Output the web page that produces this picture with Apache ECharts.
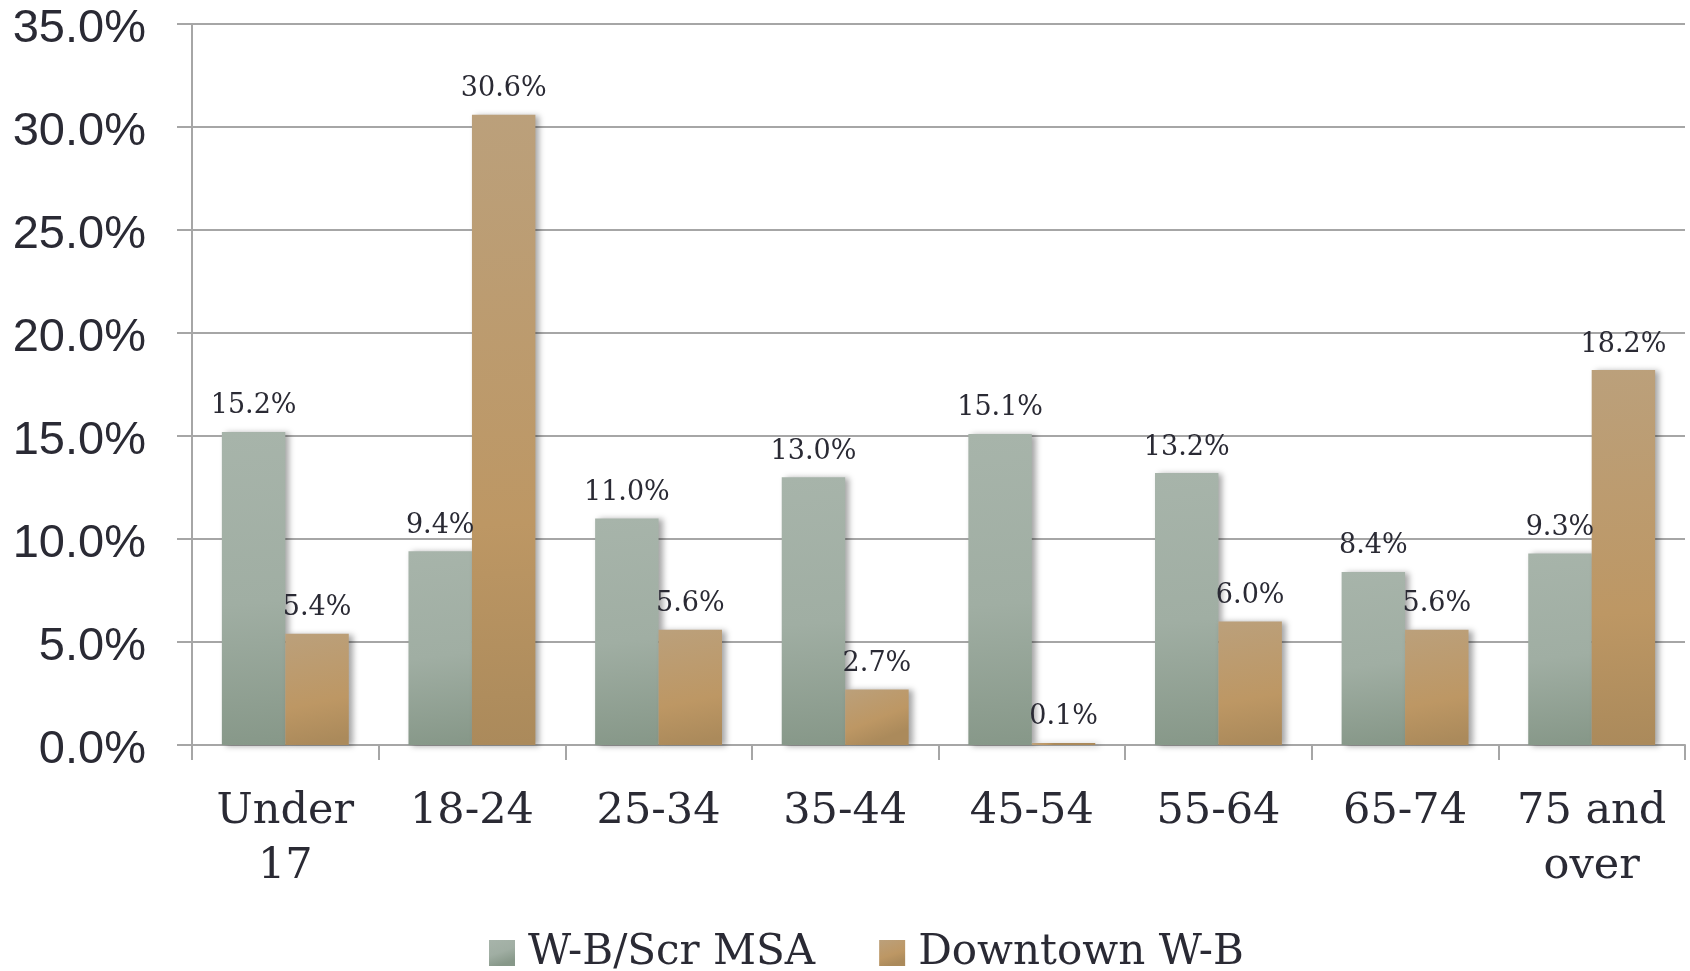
<!DOCTYPE html>
<html>
<head>
<meta charset="utf-8">
<title>Age distribution</title>
<script src="https://cdn.jsdelivr.net/npm/echarts@6/dist/echarts.min.js"></script>
<style>
  html, body { margin: 0; padding: 0; background: #ffffff; }
  #chart { width: 1690px; height: 971px; }
</style>
</head>
<body>
<div id="chart"></div>
<script>
// Age groups and population shares (%)
const categories = ['Under\n17', '18-24', '25-34', '35-44', '45-54', '55-64', '65-74', '75 and\nover'];
const seriesNames = ['W-B/Scr MSA', 'Downtown W-B'];
const msaValues = [15.2, 9.4, 11.0, 13.0, 15.1, 13.2, 8.4, 9.3];
const downtownValues = [5.4, 30.6, 5.6, 2.7, 0.1, 6.0, 5.6, 18.2];
const yTicks = { min: 0, max: 35, interval: 5 };

const slab = '"DejaVu Serif", "Liberation Serif", serif';
const sans = '"Liberation Sans", Arial, sans-serif';
const textColor = '#2a2a34';
const gridColor = '#a6a6a6';

const greenFill = new echarts.graphic.LinearGradient(0, 0, 0.35, 1, [
  { offset: 0, color: '#a7b4aa' },
  { offset: 0.55, color: '#a0aea3' },
  { offset: 1, color: '#879889' }
]);
const brownFill = new echarts.graphic.LinearGradient(0, 0, 0.35, 1, [
  { offset: 0, color: '#bba07b' },
  { offset: 0.65, color: '#bd9764' },
  { offset: 1, color: '#ab8a5b' }
]);

const pct = v => Number(v).toFixed(1) + '%';

const labelStyle = {
  show: true,
  position: 'top',
  distance: 12,
  fontFamily: slab,
  fontSize: 27,
  color: textColor,
  formatter: p => pct(p.value)
};

const barShadow = {
  shadowColor: 'rgba(0,0,0,0.35)',
  shadowBlur: 6,
  shadowOffsetX: 4,
  shadowOffsetY: 1
};

const chart = echarts.init(document.getElementById('chart'), null, { renderer: 'canvas' });

chart.setOption({
  backgroundColor: '#ffffff',
  animation: false,
  grid: { left: 192, right: 5, top: 24, bottom: 226, containLabel: false },
  legend: {
    data: seriesNames,
    top: 925,
    left: 484,
    itemWidth: 26,
    itemHeight: 26,
    itemGap: 64,
    icon: 'rect',
    textStyle: { fontFamily: slab, fontSize: 42, lineHeight: 46, color: textColor, padding: [0, 0, 0, 8] }
  },
  xAxis: {
    type: 'category',
    data: categories,
    axisLine: { show: true, lineStyle: { color: gridColor, width: 2 } },
    axisTick: { show: true, length: 15, lineStyle: { color: gridColor, width: 2 } },
    axisLabel: {
      fontFamily: slab,
      fontSize: 43,
      lineHeight: 55,
      color: textColor,
      margin: 39,
      interval: 0
    }
  },
  yAxis: {
    type: 'value',
    min: yTicks.min,
    max: yTicks.max,
    interval: yTicks.interval,
    axisLine: { show: true, lineStyle: { color: gridColor, width: 2 } },
    axisTick: { show: true, length: 15, lineStyle: { color: gridColor, width: 2 } },
    splitLine: { show: true, lineStyle: { color: gridColor, width: 2 } },
    axisLabel: {
      color: textColor,
      margin: 46,
      formatter: v => '{v|' + pct(v) + '}',
      rich: {
        v: {
          fontFamily: sans,
          fontSize: 47,
          color: textColor,
          padding: [10, 0, 0, 0]
        }
      }
    }
  },
  series: [
    {
      name: seriesNames[0],
      type: 'bar',
      data: msaValues,
      barGap: '0%',
      barCategoryGap: '32%',
      itemStyle: Object.assign({ color: greenFill }, barShadow),
      label: labelStyle
    },
    {
      name: seriesNames[1],
      type: 'bar',
      data: downtownValues,
      itemStyle: Object.assign({ color: brownFill }, barShadow),
      label: labelStyle
    }
  ]
});
</script>
</body>
</html>
